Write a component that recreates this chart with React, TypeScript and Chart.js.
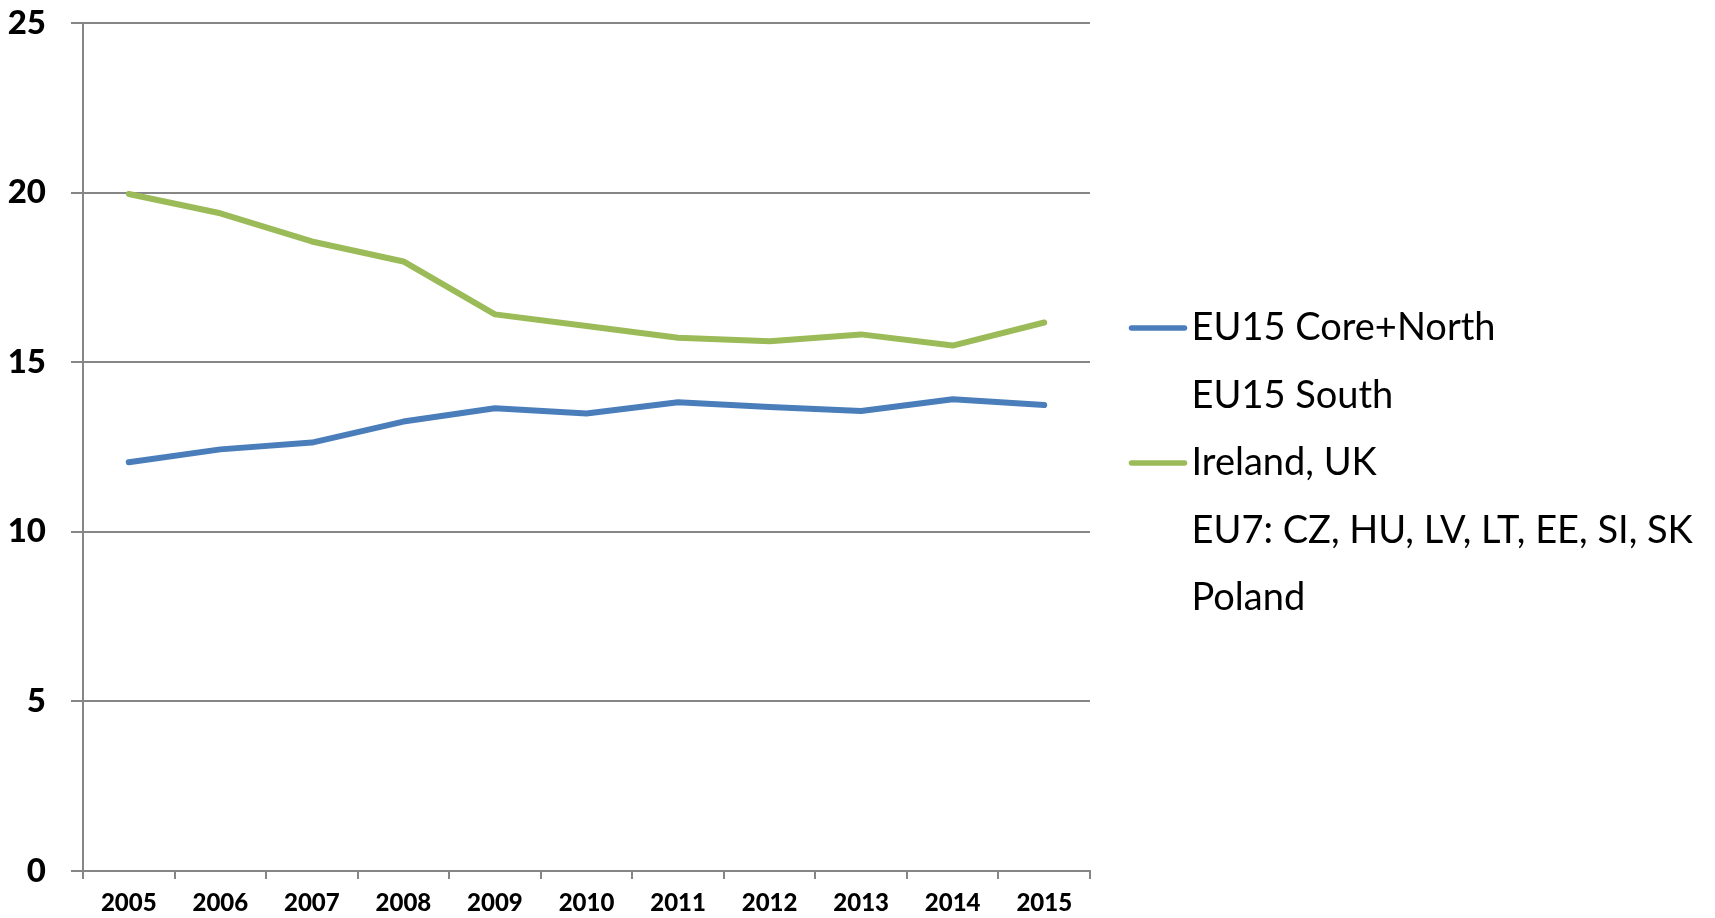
import React, { useEffect, useRef } from "react";
import { Chart, registerables } from "chart.js";

Chart.register(...registerables);

const years = ["2005", "2006", "2007", "2008", "2009", "2010", "2011", "2012", "2013", "2014", "2015"];
const coreNorth = [12.05, 12.43, 12.63, 13.25, 13.64, 13.49, 13.82, 13.68, 13.56, 13.91, 13.74];
const irelandUK = [19.96, 19.39, 18.56, 17.97, 16.41, 16.07, 15.72, 15.62, 15.82, 15.49, 16.17];
const seriesNames = [
  "EU15 Core+North",
  "EU15 South",
  "Ireland, UK",
  "EU7: CZ, HU, LV, LT, EE, SI, SK",
  "Poland",
];
const seriesColors = ["#4A7EBB", "rgba(0,0,0,0)", "#9BBB59", "rgba(0,0,0,0)", "rgba(0,0,0,0)"];
const yTicks = [0, 5, 10, 15, 20, 25];

const FONT = "Lato, 'Liberation Sans', Arial, sans-serif";
const GRID = "#868686";
const LEGEND_WIDTH = 625;
const LEGEND_FONT = 38;
const LEGEND_PAD = 29.5;
const LEGEND_BOX = 53;

export default function App() {
  const ref = useRef<HTMLCanvasElement | null>(null);

  useEffect(() => {
    if (!ref.current) return;
    const seriesData: number[][] = [coreNorth, [], irelandUK, [], []];
    const legendPlugin = {
      id: "legendTweaks",
      beforeLayout(chart: any) {
        const lg: any = chart.legend;
        if (lg && !lg.__patched) {
          const orig = lg.fit.bind(lg);
          lg.fit = function () {
            this.maxWidth = 3000;
            orig();
            this.width = LEGEND_WIDTH;
          };
          lg.__patched = true;
        }
      },
      afterDraw(chart: any) {
        const lg: any = chart.legend;
        if (!lg || !lg.legendHitBoxes) return;
        const ctx = chart.ctx;
        ctx.save();
        ctx.lineWidth = 5.5;
        ctx.lineCap = "round";
        lg.legendHitBoxes.forEach((hb: any, i: number) => {
          const color = seriesColors[i];
          if (!color || color === "rgba(0,0,0,0)") return;
          const textX = hb.left + LEGEND_BOX + LEGEND_FONT / 2;
          const y = hb.top + hb.height / 2;
          ctx.strokeStyle = color;
          ctx.beginPath();
          ctx.moveTo(textX - 60, y);
          ctx.lineTo(textX - 7, y);
          ctx.stroke();
        });
        ctx.restore();
      },
    };
    const chart = new Chart(ref.current, {
      type: "line",
      data: {
        labels: years,
        datasets: seriesNames.map((name, i) => ({
          label: name,
          data: seriesData[i],
          borderColor: seriesColors[i],
          backgroundColor: seriesColors[i],
          borderWidth: 6,
          pointRadius: 0,
          tension: 0,
          borderCapStyle: "round" as const,
          borderJoinStyle: "round" as const,
          fill: false,
        })),
      },
      plugins: [legendPlugin],
      options: {
        animation: false,
        responsive: true,
        maintainAspectRatio: false,
        layout: { padding: { top: 8, left: 0, right: 0, bottom: 0 } },
        plugins: {
          tooltip: { enabled: false },
          legend: {
            position: "right",
            align: "center",
            labels: {
              color: "#000",
              font: { family: FONT, size: LEGEND_FONT },
              boxWidth: LEGEND_BOX,
              boxHeight: 5,
              padding: LEGEND_PAD,
              generateLabels: () =>
                seriesNames.map((name, i) => ({
                  text: name,
                  fillStyle: "rgba(0,0,0,0)",
                  strokeStyle: "rgba(0,0,0,0)",
                  lineWidth: 0,
                  hidden: false,
                  datasetIndex: i,
                  fontColor: "#000",
                })),
            },
          },
        },
        scales: {
          x: {
            type: "category",
            offset: true,
            grid: {
              display: true,
              offset: true,
              drawOnChartArea: false,
              drawTicks: true,
              tickLength: 8,
              color: GRID,
              lineWidth: 2,
            },
            border: { display: true, color: GRID, width: 2 },
            ticks: {
              color: "#000",
              font: { family: FONT, size: 24, weight: "900" },
              padding: 10,
              maxRotation: 0,
              autoSkip: false,
            },
            afterFit: (scale: any) => {
              scale.height = 47;
            },
          },
          y: {
            min: 0,
            max: 25,
            afterBuildTicks: (scale: any) => {
              scale.ticks = yTicks.map((v) => ({ value: v }));
            },
            grid: {
              color: GRID,
              lineWidth: 2,
              drawTicks: true,
              tickLength: 12,
            },
            border: { display: true, color: GRID, width: 2 },
            ticks: {
              color: "#000",
              font: { family: FONT, size: 33, weight: "900" },
              padding: 25,
            },
            afterFit: (scale: any) => {
              scale.width = 83;
              scale.paddingTop = 23;
              scale.paddingBottom = 20;
            },
          },
        },
      },
    });
    return () => chart.destroy();
  }, []);

  return (
    <div style={{ position: "fixed", left: 0, top: 0, width: 1715, height: 918, background: "#fff" }}>
      <canvas ref={ref} />
    </div>
  );
}
